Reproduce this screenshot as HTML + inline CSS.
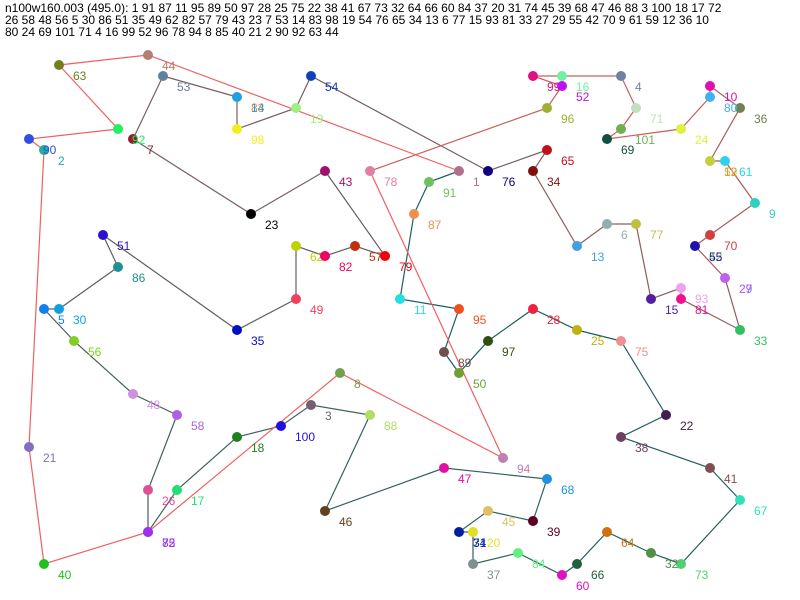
<!DOCTYPE html>
<html><head><meta charset="utf-8"><style>
html,body{margin:0;padding:0;background:#fff;width:800px;height:600px;overflow:hidden}
svg{display:block}
text{font-family:"Liberation Sans",sans-serif;font-size:12px}
</style></head><body>
<svg width="800" height="600" viewBox="0 0 800 600" xmlns="http://www.w3.org/2000/svg">
<text x="5" y="12" fill="#000">n100w160.003 (495.0): 1 91 87 11 95 89 50 97 28 25 75 22 38 41 67 73 32 64 66 60 84 37 20 31 74 45 39 68 47 46 88 3 100 18 17 72</text>
<text x="5" y="24" fill="#000">26 58 48 56 5 30 86 51 35 49 62 82 57 79 43 23 7 53 14 83 98 19 54 76 65 34 13 6 77 15 93 81 33 27 29 55 42 70 9 61 59 12 36 10</text>
<text x="5" y="36" fill="#000">80 24 69 101 71 4 16 99 52 96 78 94 8 85 40 21 2 90 92 63 44</text>
<g fill="none" stroke-width="1.2">
<polyline stroke="#1a6060" points="459,171 429,182 414,214 400,299 459,309 444,352 459,373 488,341 533,309 577,330 621,341"/>
<polyline stroke="#256060" points="621,341 666,415 621,437 710,468 740,500 681,564 651,553 607,532 577,564 562,575 518,553"/>
<polyline stroke="#356060" points="518,553 473,564 473,532 459,532 459,532 488,511 533,521 547,479 444,468 325,511 370,415"/>
<polyline stroke="#456060" points="370,415 311,405 281,426 237,437 177,490 148,532 148,490 177,415 133,394 74,341 44,309"/>
<polyline stroke="#606060" points="44,309 59,309 118,267 103,235 237,330 296,299 296,246 325,256 355,246 385,256 325,171"/>
<polyline stroke="#786060" points="325,171 251,214 133,139 163,76 237,97 237,97 237,129 296,108 311,76 488,171 547,150"/>
<polyline stroke="#905c5c" points="547,150 533,171 577,246 607,224 636,224 651,299 681,288 681,299 740,330 725,278 725,278"/>
<polyline stroke="#aa5a5a" points="725,278 695,246 695,246 710,235 755,203 725,161 710,161 710,161 740,108 710,86 710,97"/>
<polyline stroke="#cc5c5c" points="710,97 681,129 607,139 621,129 636,108 621,76 562,76 533,76 562,86 547,108 370,171"/>
<polyline stroke="#f06060" points="370,171 503,458 340,373 148,532 44,564 29,447 44,150 29,139 118,129 59,65 148,55 459,171"/>
</g>
<g>
<circle cx="459" cy="171" r="5" fill="#b07090"/><text x="473" y="186" fill="#b07090">1</text>
<circle cx="429" cy="182" r="5" fill="#70c060"/><text x="443" y="197" fill="#70c060">91</text>
<circle cx="414" cy="214" r="5" fill="#f09050"/><text x="428" y="229" fill="#f09050">87</text>
<circle cx="400" cy="299" r="5" fill="#20e0e0"/><text x="414" y="314" fill="#20e0e0">11</text>
<circle cx="459" cy="309" r="5" fill="#f05020"/><text x="473" y="324" fill="#f05020">95</text>
<circle cx="444" cy="352" r="5" fill="#705050"/><text x="458" y="367" fill="#705050">89</text>
<circle cx="459" cy="373" r="5" fill="#70a030"/><text x="473" y="388" fill="#70a030">50</text>
<circle cx="488" cy="341" r="5" fill="#305010"/><text x="502" y="356" fill="#305010">97</text>
<circle cx="533" cy="309" r="5" fill="#f02040"/><text x="547" y="324" fill="#f02040">28</text>
<circle cx="577" cy="330" r="5" fill="#c0b010"/><text x="591" y="345" fill="#c0b010">25</text>
<circle cx="621" cy="341" r="5" fill="#f09090"/><text x="635" y="356" fill="#f09090">75</text>
<circle cx="666" cy="415" r="5" fill="#402050"/><text x="680" y="430" fill="#402050">22</text>
<circle cx="621" cy="437" r="5" fill="#704060"/><text x="635" y="452" fill="#704060">38</text>
<circle cx="710" cy="468" r="5" fill="#805050"/><text x="724" y="483" fill="#805050">41</text>
<circle cx="740" cy="500" r="5" fill="#30e0c0"/><text x="754" y="515" fill="#30e0c0">67</text>
<circle cx="681" cy="564" r="5" fill="#50d070"/><text x="695" y="579" fill="#50d070">73</text>
<circle cx="651" cy="553" r="5" fill="#509040"/><text x="665" y="568" fill="#509040">32</text>
<circle cx="607" cy="532" r="5" fill="#d07010"/><text x="621" y="547" fill="#d07010">64</text>
<circle cx="577" cy="564" r="5" fill="#206040"/><text x="591" y="579" fill="#206040">66</text>
<circle cx="562" cy="575" r="5" fill="#e010c0"/><text x="576" y="590" fill="#e010c0">60</text>
<circle cx="518" cy="553" r="5" fill="#60f080"/><text x="532" y="568" fill="#60f080">84</text>
<circle cx="473" cy="564" r="5" fill="#809090"/><text x="487" y="579" fill="#809090">37</text>
<circle cx="473" cy="532" r="5" fill="#e0e020"/><text x="487" y="547" fill="#e0e020">20</text>
<circle cx="459" cy="532" r="5" fill="#0020a0"/><text x="473" y="547" fill="#0020a0">31</text>
<text x="473" y="547" fill="#1040a0">74</text>
<circle cx="488" cy="511" r="5" fill="#e0c060"/><text x="502" y="526" fill="#e0c060">45</text>
<circle cx="533" cy="521" r="5" fill="#600020"/><text x="547" y="536" fill="#600020">39</text>
<circle cx="547" cy="479" r="5" fill="#2090e0"/><text x="561" y="494" fill="#2090e0">68</text>
<circle cx="444" cy="468" r="5" fill="#e010a0"/><text x="458" y="483" fill="#e010a0">47</text>
<circle cx="325" cy="511" r="5" fill="#604020"/><text x="339" y="526" fill="#604020">46</text>
<circle cx="370" cy="415" r="5" fill="#b0e060"/><text x="384" y="430" fill="#b0e060">88</text>
<circle cx="311" cy="405" r="5" fill="#706070"/><text x="325" y="420" fill="#706070">3</text>
<circle cx="281" cy="426" r="5" fill="#2010e0"/><text x="295" y="441" fill="#2010e0">100</text>
<circle cx="237" cy="437" r="5" fill="#208020"/><text x="251" y="452" fill="#208020">18</text>
<circle cx="177" cy="490" r="5" fill="#20e070"/><text x="191" y="505" fill="#20e070">17</text>
<circle cx="148" cy="532" r="5" fill="#9030e0"/><text x="162" y="547" fill="#9030e0">72</text>
<circle cx="148" cy="490" r="5" fill="#e05090"/><text x="162" y="505" fill="#e05090">26</text>
<circle cx="177" cy="415" r="5" fill="#b060e0"/><text x="191" y="430" fill="#b060e0">58</text>
<circle cx="133" cy="394" r="5" fill="#d090e0"/><text x="147" y="409" fill="#d090e0">48</text>
<circle cx="74" cy="341" r="5" fill="#80d020"/><text x="88" y="356" fill="#80d020">56</text>
<circle cx="44" cy="309" r="5" fill="#1080f0"/><text x="58" y="324" fill="#1080f0">5</text>
<circle cx="59" cy="309" r="5" fill="#10a0e0"/><text x="73" y="324" fill="#10a0e0">30</text>
<circle cx="118" cy="267" r="5" fill="#209090"/><text x="132" y="282" fill="#209090">86</text>
<circle cx="103" cy="235" r="5" fill="#3010d0"/><text x="117" y="250" fill="#3010d0">51</text>
<circle cx="237" cy="330" r="5" fill="#0010c0"/><text x="251" y="345" fill="#0010c0">35</text>
<circle cx="296" cy="299" r="5" fill="#f04060"/><text x="310" y="314" fill="#f04060">49</text>
<circle cx="296" cy="246" r="5" fill="#c0d000"/><text x="310" y="261" fill="#c0d000">62</text>
<circle cx="325" cy="256" r="5" fill="#f00060"/><text x="339" y="271" fill="#f00060">82</text>
<circle cx="355" cy="246" r="5" fill="#c03010"/><text x="369" y="261" fill="#c03010">57</text>
<circle cx="385" cy="256" r="5" fill="#f00010"/><text x="399" y="271" fill="#f00010">79</text>
<circle cx="325" cy="171" r="5" fill="#a01070"/><text x="339" y="186" fill="#a01070">43</text>
<circle cx="251" cy="214" r="5" fill="#000000"/><text x="265" y="229" fill="#000000">23</text>
<circle cx="133" cy="139" r="5" fill="#902030"/><text x="147" y="154" fill="#902030">7</text>
<circle cx="163" cy="76" r="5" fill="#6080a0"/><text x="177" y="91" fill="#6080a0">53</text>
<circle cx="237" cy="97" r="5" fill="#20a0e0"/><text x="251" y="112" fill="#f09040">83</text><text x="251" y="112" fill="#20a0e0">14</text>
<circle cx="237" cy="129" r="5" fill="#f0f020"/><text x="251" y="144" fill="#f0f020">98</text>
<circle cx="296" cy="108" r="5" fill="#a0f080"/><text x="310" y="123" fill="#a0f080">19</text>
<circle cx="311" cy="76" r="5" fill="#1040c0"/><text x="325" y="91" fill="#1040c0">54</text>
<circle cx="488" cy="171" r="5" fill="#100080"/><text x="502" y="186" fill="#100080">76</text>
<circle cx="547" cy="150" r="5" fill="#c01020"/><text x="561" y="165" fill="#c01020">65</text>
<circle cx="533" cy="171" r="5" fill="#801010"/><text x="547" y="186" fill="#801010">34</text>
<circle cx="577" cy="246" r="5" fill="#40a0e0"/><text x="591" y="261" fill="#40a0e0">13</text>
<circle cx="607" cy="224" r="5" fill="#90b0b0"/><text x="621" y="239" fill="#90b0b0">6</text>
<circle cx="636" cy="224" r="5" fill="#c0c040"/><text x="650" y="239" fill="#c0c040">77</text>
<circle cx="651" cy="299" r="5" fill="#5020a0"/><text x="665" y="314" fill="#5020a0">15</text>
<circle cx="681" cy="288" r="5" fill="#f0a0f0"/><text x="695" y="303" fill="#f0a0f0">93</text>
<circle cx="681" cy="299" r="5" fill="#f01090"/><text x="695" y="314" fill="#f01090">81</text>
<circle cx="740" cy="330" r="5" fill="#30c060"/><text x="754" y="345" fill="#30c060">33</text>
<circle cx="725" cy="278" r="5" fill="#c060f0"/><text x="739" y="293" fill="#8070f0">29</text><text x="739" y="293" fill="#c060f0">27</text>
<circle cx="695" cy="246" r="5" fill="#2010b0"/><text x="709" y="261" fill="#80c030">42</text><text x="709" y="261" fill="#2010b0">55</text>
<circle cx="710" cy="235" r="5" fill="#d04040"/><text x="724" y="250" fill="#d04040">70</text>
<circle cx="755" cy="203" r="5" fill="#30d0c0"/><text x="769" y="218" fill="#30d0c0">9</text>
<circle cx="710" cy="161" r="5" fill="#c0d040"/><text x="724" y="176" fill="#c0d040">59</text><text x="724" y="176" fill="#f09040">12</text>
<circle cx="725" cy="161" r="5" fill="#30d0f0"/><text x="739" y="176" fill="#30d0f0">61</text>
<circle cx="740" cy="108" r="5" fill="#708050"/><text x="754" y="123" fill="#708050">36</text>
<circle cx="710" cy="86" r="5" fill="#e010b0"/><text x="724" y="101" fill="#e010b0">10</text>
<circle cx="710" cy="97" r="5" fill="#40b0f0"/><text x="724" y="112" fill="#40b0f0">80</text>
<circle cx="681" cy="129" r="5" fill="#e0f040"/><text x="695" y="144" fill="#e0f040">24</text>
<circle cx="607" cy="139" r="5" fill="#105040"/><text x="621" y="154" fill="#105040">69</text>
<circle cx="621" cy="129" r="5" fill="#70b050"/><text x="635" y="144" fill="#70b050">101</text>
<circle cx="636" cy="108" r="5" fill="#c0e0c0"/><text x="650" y="123" fill="#c0e0c0">71</text>
<circle cx="621" cy="76" r="5" fill="#7080a0"/><text x="635" y="91" fill="#7080a0">4</text>
<circle cx="562" cy="76" r="5" fill="#70f0a0"/><text x="576" y="91" fill="#70f0a0">16</text>
<circle cx="533" cy="76" r="5" fill="#e01080"/><text x="547" y="91" fill="#e01080">99</text>
<circle cx="562" cy="86" r="5" fill="#c010f0"/><text x="576" y="101" fill="#c010f0">52</text>
<circle cx="547" cy="108" r="5" fill="#a0b030"/><text x="561" y="123" fill="#a0b030">96</text>
<circle cx="370" cy="171" r="5" fill="#e080a0"/><text x="384" y="186" fill="#e080a0">78</text>
<circle cx="503" cy="458" r="5" fill="#c080b0"/><text x="517" y="473" fill="#c080b0">94</text>
<circle cx="340" cy="373" r="5" fill="#70a050"/><text x="354" y="388" fill="#70a050">8</text>
<circle cx="148" cy="532" r="5" fill="#a030f0"/><text x="162" y="547" fill="#a030f0">85</text>
<circle cx="44" cy="564" r="5" fill="#20c020"/><text x="58" y="579" fill="#20c020">40</text>
<circle cx="29" cy="447" r="5" fill="#8070c0"/><text x="43" y="462" fill="#8070c0">21</text>
<circle cx="44" cy="150" r="5" fill="#20b0a0"/><text x="58" y="165" fill="#20b0a0">2</text>
<circle cx="29" cy="139" r="5" fill="#3050e0"/><text x="43" y="154" fill="#3050e0">90</text>
<circle cx="118" cy="129" r="5" fill="#20f060"/><text x="132" y="144" fill="#20f060">92</text>
<circle cx="59" cy="65" r="5" fill="#708020"/><text x="73" y="80" fill="#708020">63</text>
<circle cx="148" cy="55" r="5" fill="#b08070"/><text x="162" y="70" fill="#b08070">44</text>
</g>
</svg>
</body></html>
